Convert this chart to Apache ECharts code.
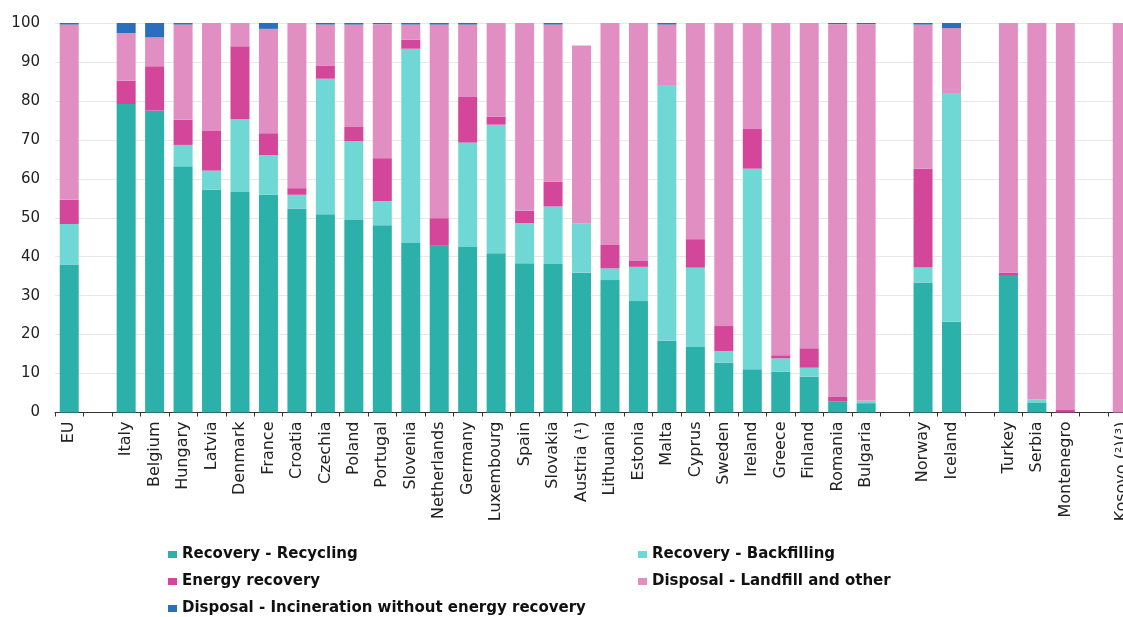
<!DOCTYPE html>
<html>
<head>
<meta charset="utf-8">
<script src="https://cdn.jsdelivr.net/npm/echarts@6/dist/echarts.min.js"></script>
<style>
  html, body { margin: 0; padding: 0; overflow: hidden; background: #fff; }
  #chart { width: 1160px; height: 617px; }
</style>
</head>
<body>
<div id="chart"></div>
<script>
// categories, '' = empty slot between country groups
var countries = ["EU", "", "Italy", "Belgium", "Hungary", "Latvia", "Denmark", "France", "Croatia", "Czechia",
  "Poland", "Portugal", "Slovenia", "Netherlands", "Germany", "Luxembourg", "Spain", "Slovakia", "Austria (¹)",
  "Lithuania", "Estonia", "Malta", "Cyprus", "Sweden", "Ireland", "Greece", "Finland", "Romania", "Bulgaria",
  "", "Norway", "Iceland", "", "Turkey", "Serbia", "Montenegro", "", "Kosovo (²)(³)"];

// shares in %
var recycling = [38, "-", 79.2, 77.5, 63.2, 57.2, 56.6, 55.9, 52.4, 50.9,
  49.4, 48.1, 43.5, 42.8, 42.5, 40.9, 38.3, 38.1, 35.9,
  34.0, 28.6, 18.4, 16.8, 12.8, 11.1, 10.5, 9.2, 2.9, 2.4,
  "-", 33.4, 23.3, "-", 35.3, 2.6, 0, "-", 0];
var backfilling = [10.4, "-", 0, 0, 5.5, 4.9, 18.7, 10.2, 3.5, 34.8,
  20.2, 6.2, 49.9, 0, 26.8, 33.0, 10.3, 14.8, 12.7,
  3.0, 8.8, 65.7, 20.4, 3.0, 51.5, 3.4, 2.3, 0, 0.6,
  "-", 3.8, 58.7, "-", 0, 0.8, 0, "-", 0];
var energy = [6.2, "-", 6.0, 11.4, 6.5, 10.2, 18.7, 5.6, 1.7, 3.4,
  3.7, 11.0, 2.3, 7.1, 11.7, 2.1, 3.2, 6.4, 0,
  6.0, 1.5, 0, 7.3, 6.4, 10.2, 0.8, 5.0, 1.1, 0,
  "-", 25.4, 0, "-", 0.6, 0, 0.8, "-", 0];
var landfill = [45.0, "-", 12.2, 7.4, 24.4, 27.7, 6.0, 26.8, 42.4, 10.5,
  26.3, 34.4, 3.9, 49.7, 18.6, 24.0, 48.2, 40.3, 45.6,
  57.0, 61.1, 15.5, 55.5, 77.8, 27.2, 85.3, 83.5, 95.7, 96.7,
  "-", 37.0, 16.7, "-", 64.1, 96.6, 99.2, "-", 100];
var incineration = [0.4, "-", 2.6, 3.7, 0.4, 0, 0, 1.5, 0, 0.4,
  0.4, 0.3, 0.4, 0.4, 0.4, 0, 0, 0.4, 0,
  0, 0, 0.4, 0, 0, 0, 0, 0, 0.3, 0.3,
  "-", 0.4, 1.3, "-", 0, 0, 0, "-", 0];

var yTicks = [0, 10, 20, 30, 40, 50, 60, 70, 80, 90, 100];

var chart = echarts.init(document.getElementById("chart"));

function bar(name, data, color) {
  return {
    name: name,
    type: "bar",
    stack: "total",
    barWidth: 19,
    data: data,
    itemStyle: { color: color },
    emphasis: { disabled: true }
  };
}

var font = "DejaVu Sans, Verdana, sans-serif";
var legendText = { color: "#111", fontSize: 15, fontWeight: "bold", fontFamily: font, lineHeight: 17 };

chart.setOption({
  animation: false,
  grid: { left: 55, right: 23.5, top: 23, bottom: 204.5, containLabel: false },
  legend: [
    {
      orient: "vertical",
      left: 168, top: 546,
      padding: 0,
      icon: "rect", itemWidth: 9, itemHeight: 7, itemGap: 10,
      data: ["Recovery - Recycling", "Energy recovery", "Disposal - Incineration without energy recovery"],
      textStyle: legendText
    },
    {
      orient: "vertical",
      left: 638, top: 546,
      padding: 0,
      icon: "rect", itemWidth: 9, itemHeight: 7, itemGap: 10,
      data: ["Recovery - Backfilling", "Disposal - Landfill and other"],
      textStyle: legendText
    }
  ],
  xAxis: {
    type: "category",
    data: countries,
    axisLine: { lineStyle: { color: "#333" } },
    axisTick: { show: true, length: 4, lineStyle: { color: "#333" } },
    axisLabel: {
      interval: 0,
      rotate: 90,
      color: "#222",
      fontSize: 16,
      fontFamily: font,
      margin: 9
    }
  },
  yAxis: {
    type: "value",
    min: yTicks[0],
    max: yTicks[yTicks.length - 1],
    interval: 10,
    axisLine: { show: false },
    axisTick: { show: false },
    axisLabel: { color: "#222", fontSize: 15, fontFamily: font, margin: 15 },
    splitLine: { lineStyle: { color: "#e8e8e8" } }
  },
  series: [
    bar("Recovery - Recycling", recycling, "#2bb0aa"),
    bar("Recovery - Backfilling", backfilling, "#70d8d4"),
    bar("Energy recovery", energy, "#d4469a"),
    bar("Disposal - Landfill and other", landfill, "#e18fc2"),
    bar("Disposal - Incineration without energy recovery", incineration, "#2a6fbd")
  ]
});
</script>
</body>
</html>
